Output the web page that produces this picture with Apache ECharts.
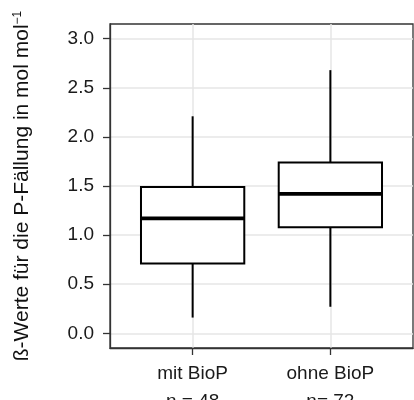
<!DOCTYPE html>
<html>
<head>
<meta charset="utf-8">
<script src="https://cdn.jsdelivr.net/npm/echarts@6/dist/echarts.min.js"></script>
<style>
  html, body { margin: 0; padding: 0; background: #fff; }
  #chart { width: 414px; height: 400px; }
</style>
</head>
<body>
<div id="chart"></div>
<script>
// gruppen und boxplot-kennwerte
var categories = ['mit BioP\nn = 48', 'ohne BioP\nn= 72'];
var whiskerLow = [0.16, 0.27];
var q1 = [0.71, 1.08];
var median = [1.17, 1.42];
var q3 = [1.49, 1.74];
var whiskerHigh = [2.21, 2.68];
var yTicks = [0, 0.5, 1.0, 1.5, 2.0, 2.5, 3.0];
var xPos = [1, 2];

var boxWidth = 0.75;
var font = 'Liberation Sans, Arial, Helvetica, sans-serif';

var boxData = categories.map(function (c, i) {
  return [xPos[i], whiskerLow[i], q1[i], median[i], q3[i], whiskerHigh[i]];
});

var myChart = echarts.init(document.getElementById('chart'), null, { renderer: 'canvas' });

var option = {
  animation: false,
  backgroundColor: '#fff',
  grid: {
    show: true,
    left: 110,
    top: 24,
    right: 1,
    bottom: 52,
    containLabel: false,
    outerBoundsMode: 'none',
    borderColor: '#333',
    borderWidth: 1.3,
    backgroundColor: '#fff'
  },
  xAxis: {
    type: 'value',
    min: 0.4,
    max: 2.6,
    axisLine: { show: true, onZero: false, lineStyle: { color: '#333', width: 1.3 } },
    axisTick: {
      show: true,
      length: 7,
      customValues: xPos,
      lineStyle: { color: '#333', width: 1.3 }
    },
    axisLabel: {
      customValues: xPos,
      margin: 12,
      fontFamily: font,
      fontSize: 19,
      lineHeight: 28,
      color: '#1a1a1a',
      formatter: function (v) {
        return categories[Math.round(v) - 1];
      }
    },
    splitLine: {
      show: true,
      lineStyle: { color: '#e6e6e6', width: 1.5 }
    }
  },
  yAxis: {
    type: 'value',
    min: -0.15,
    max: 3.15,
    name: 'ß-Werte für die P-Fällung in mol mol{sup|−1}',
    nameLocation: 'middle',
    nameRotate: 90,
    nameGap: 77,
    nameTextStyle: {
      fontFamily: font,
      fontSize: 21,
      color: '#111',
      rich: {
        sup: { fontFamily: font, fontSize: 12, verticalAlign: 'top', color: '#111' }
      }
    },
    axisLine: { show: true, onZero: false, lineStyle: { color: '#333', width: 1.3 } },
    axisTick: {
      show: true,
      length: 7,
      customValues: yTicks,
      lineStyle: { color: '#333', width: 1.3 }
    },
    axisLabel: {
      customValues: yTicks,
      margin: 16,
      fontFamily: font,
      fontSize: 19,
      color: '#1a1a1a',
      formatter: function (v) {
        return v.toFixed(1);
      }
    },
    splitLine: {
      show: true,
      lineStyle: { color: '#e6e6e6', width: 1.5 }
    }
  },
  series: [
    {
      type: 'custom',
      data: boxData,
      encode: { x: 0, y: [1, 2, 3, 4, 5] },
      renderItem: function (params, api) {
        var x = api.value(0);
        var pLow = api.coord([x, api.value(1)]);
        var pQ1 = api.coord([x, api.value(2)]);
        var pMed = api.coord([x, api.value(3)]);
        var pQ3 = api.coord([x, api.value(4)]);
        var pHigh = api.coord([x, api.value(5)]);
        var half = api.size([boxWidth, 0])[0] / 2;
        var line = { stroke: '#000', lineWidth: 2 };
        return {
          type: 'group',
          children: [
            { type: 'line', shape: { x1: pQ3[0], y1: pQ3[1], x2: pHigh[0], y2: pHigh[1] }, style: line },
            { type: 'line', shape: { x1: pQ1[0], y1: pQ1[1], x2: pLow[0], y2: pLow[1] }, style: line },
            {
              type: 'rect',
              shape: { x: pQ3[0] - half, y: pQ3[1], width: half * 2, height: pQ1[1] - pQ3[1] },
              style: { fill: '#fff', stroke: '#000', lineWidth: 2 }
            },
            {
              type: 'line',
              shape: { x1: pMed[0] - half, y1: pMed[1], x2: pMed[0] + half, y2: pMed[1] },
              style: { stroke: '#000', lineWidth: 3.8 }
            }
          ]
        };
      }
    }
  ]
};

myChart.setOption(option);
</script>
</body>
</html>
